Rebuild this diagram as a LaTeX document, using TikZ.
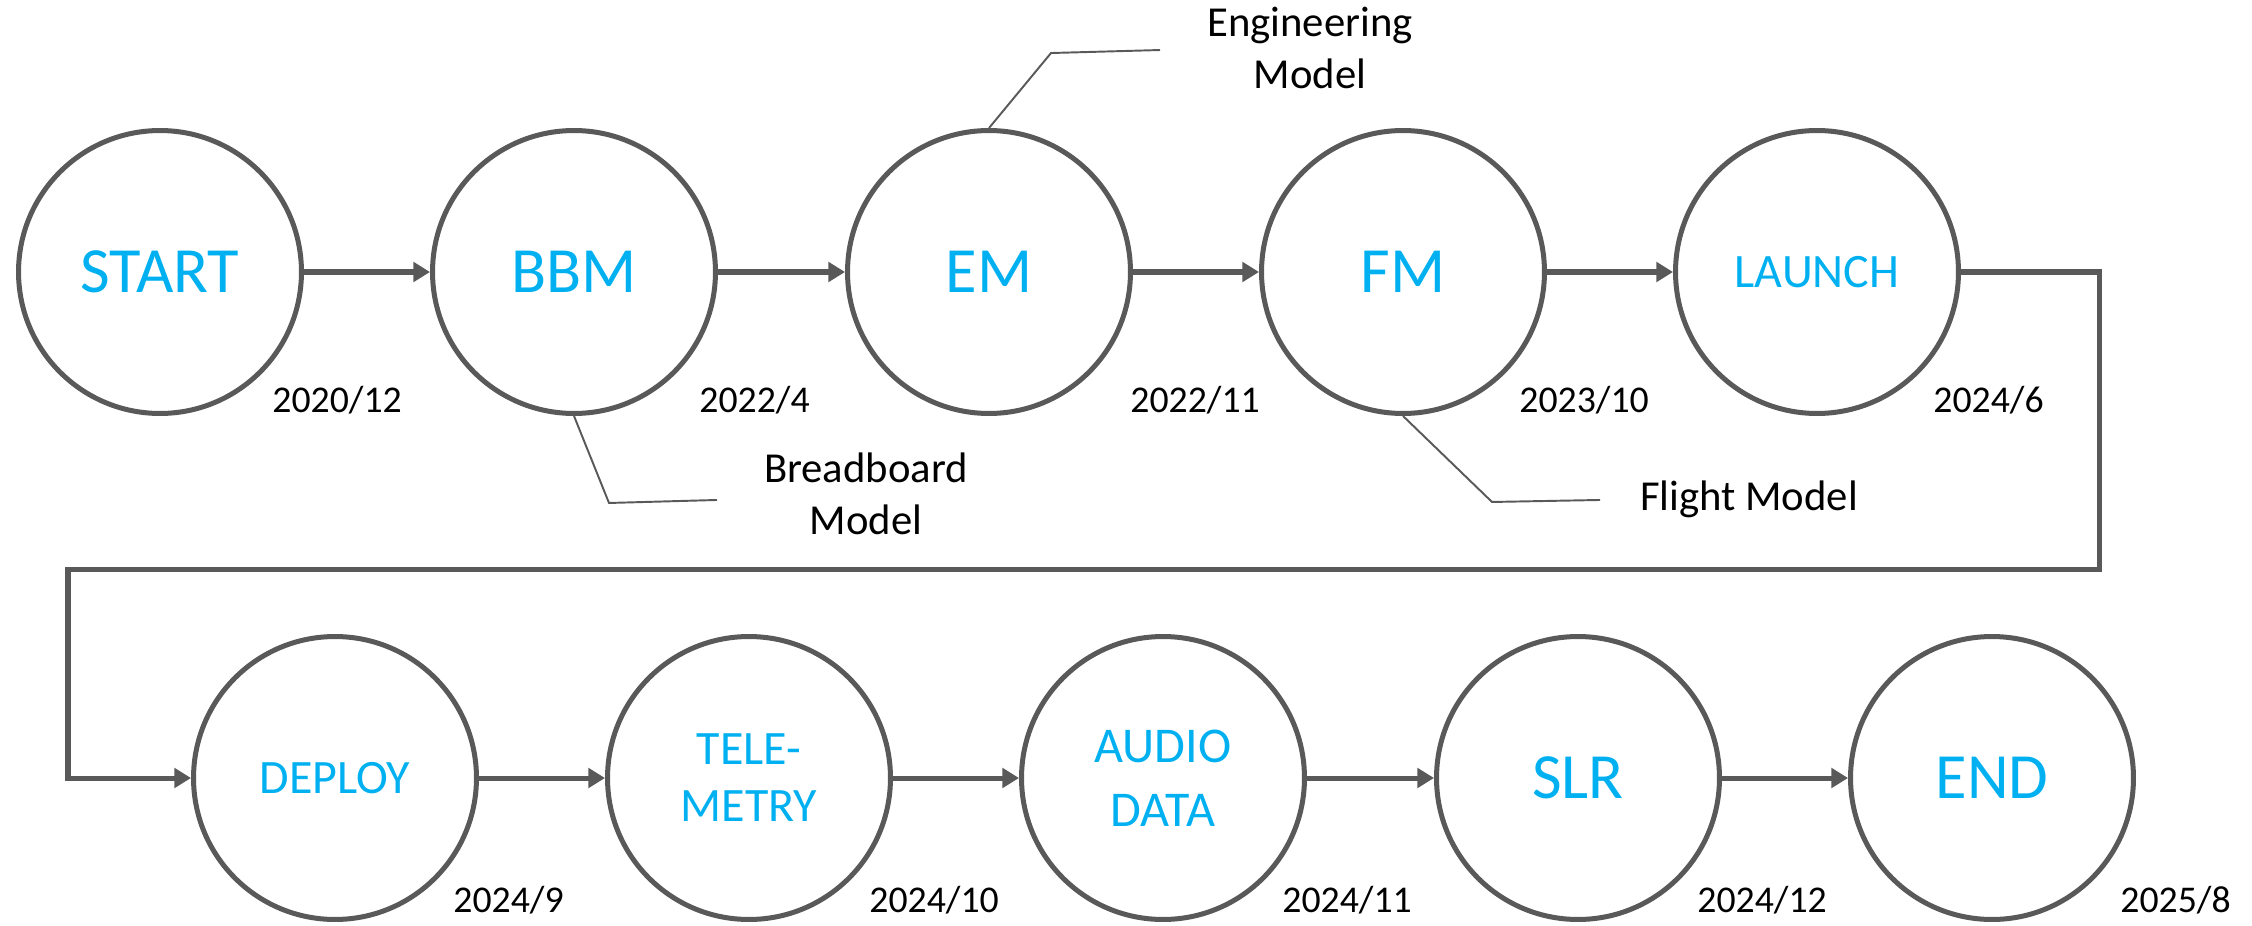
\documentclass[tikz,border=0pt]{standalone}
\usepackage{fontspec}
\setmainfont{Carlito}
\usetikzlibrary{arrows.meta}
\definecolor{linegray}{HTML}{595959}
\definecolor{skyblue}{HTML}{00B0F0}
\begin{document}
\begin{tikzpicture}[x=0.02cm,y=-0.02cm,
    phase/.style={circle,draw=linegray,line width=2.85pt,minimum size=5.66cm,inner sep=0pt,text=skyblue,align=center},
    big/.style={font=\fontsize{36.7}{44}\selectfont},
    mid/.style={font=\fontsize{27.3}{32.4}\selectfont},
    date/.style={anchor=base west,inner sep=0pt,font=\fontsize{21.5}{26}\selectfont},
    note/.style={align=center,inner sep=0pt,font=\fontsize{24.3}{29.6}\selectfont},
    flow/.style={draw=linegray,line width=2.85pt,-{Triangle[length=9.5pt,width=11pt]}},
    callout/.style={draw=linegray,line width=1.1pt}]
    \useasboundingbox (0,0) rectangle (2252,926);
    % top row
    \node (start)  at (160,272)  [phase,big] {START};
    \node (bbm)    at (574,272)  [phase,big] {BBM};
    \node (em)     at (989,272)  [phase,big] {EM};
    \node (fm)     at (1403,272) [phase,big] {FM};
    \node (launch) at (1817,272) [phase,mid] {LAUNCH};
    % bottom row
    \node (deploy) at (335,778)  [phase,mid] {DEPLOY};
    \node (tele)   at (749,778)  [phase,mid] {TELE-\\METRY};
    \node (audio)  at (1163,778) [phase,font=\fontsize{28.5}{36.4}\selectfont] {AUDIO\\DATA};
    \node (slr)    at (1578,778) [phase,big] {SLR};
    \node (finish) at (1992,778) [phase,big] {END};
    % dates
    \node (d1)  at (272,412)  [date] {2020/12};
    \node (d2)  at (699,412)  [date] {2022/4};
    \node (d3)  at (1130,412) [date] {2022/11};
    \node (d4)  at (1519,412) [date] {2023/10};
    \node (d5)  at (1933,412) [date] {2024/6};
    \node (d6)  at (453,912)  [date] {2024/9};
    \node (d7)  at (869,912)  [date] {2024/10};
    \node (d8)  at (1282,912) [date] {2024/11};
    \node (d9)  at (1697,912) [date] {2024/12};
    \node (d10) at (2120,912) [date] {2025/8};
    % model notes
    \node (bbmnote) at (866,494)  [note] {Breadboard\\Model};
    \node (emnote)  at (1310,48)  [note] {Engineering\\Model};
    \node (fmnote)  at (1749,510) [note,anchor=base] {Flight Model};
    \draw [callout] (bbm.south) -- ++(35,87) -- ++(108,-3);
    \draw [callout] (em.north)  -- ++(62,-75) -- ++(109,-3);
    \draw [callout] (fm.south)  -- ++(89,86) -- ++(108,-2);
    % arrows
    \draw [flow] (start)  -- (bbm);
    \draw [flow] (bbm)    -- (em);
    \draw [flow] (em)     -- (fm);
    \draw [flow] (fm)     -- (launch);
    \coordinate (turnR) at (2099,569);
    \coordinate (turnL) at (68,569);
    \draw [flow] (launch) -| (turnR) -- (turnL) |- (deploy);
    \draw [flow] (deploy) -- (tele);
    \draw [flow] (tele)   -- (audio);
    \draw [flow] (audio)  -- (slr);
    \draw [flow] (slr)    -- (finish);
  \end{tikzpicture}
\end{document}
